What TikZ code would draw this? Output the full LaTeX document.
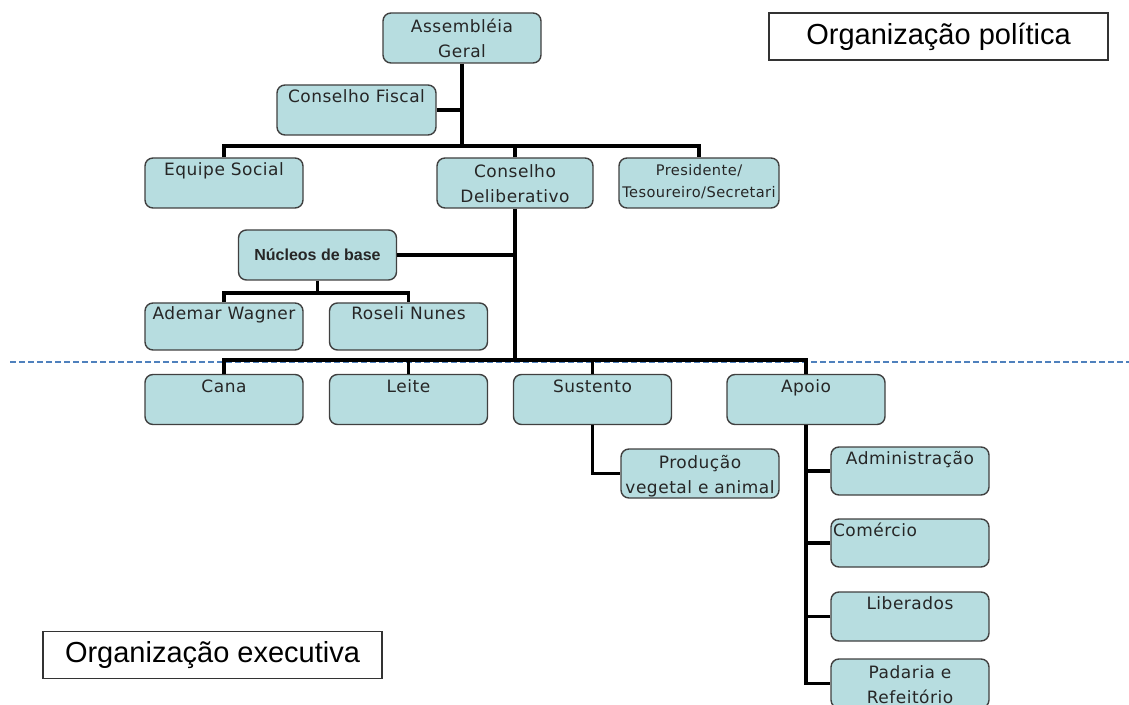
\documentclass[tikz,border=0pt]{standalone}
\usepackage{fontspec}
\setmainfont{Liberation Sans}
\newfontfamily\boxfont[LetterSpace=3]{DejaVu Sans}
\usetikzlibrary{positioning}
\usepackage{xcolor}
\definecolor{boxfill}{RGB}{183,221,224}
\definecolor{boxline}{RGB}{64,64,64}
\definecolor{splitblue}{RGB}{79,129,189}

\begin{document}
\begin{tikzpicture}[
    x=0.5pt, y=-0.5pt,
    box/.style={rectangle, draw=boxline, line width=0.7pt, fill=boxfill, rounded corners=4pt, minimum width=79pt, minimum height=25pt, inner sep=0pt, text=black!85, font=\boxfont\fontsize{8.5}{12.5}\selectfont},
    unit/.style={box, text height=8pt, text depth=15pt},
    unitb/.style={box, align=center, text height=22pt, text depth=2pt},
    tag/.style={rectangle, draw=black!80, line width=0.8pt, minimum width=169.5pt, minimum height=23.5pt, font=\fontsize{14.5}{16}\selectfont},
    link/.style={line width=1.7pt, black},
    split/.style={splitblue, line width=0.6pt, dash pattern=on 3pt off 1.5pt}
]
\useasboundingbox (0,0) rectangle (1129,705);

% Divisao politica / executiva
\draw[split] (10,362) -- (1129,362);

% Organizacao politica
\node[unitb] (asm) at (462,38) {Assembléia\\Geral};
\node[unit, minimum width=79.5pt] (fisc) at (356.5,110) {Conselho Fiscal};
\node[unit] (equipe) at (224,183) {Equipe Social};
\node[unitb, minimum width=78pt] (delib) at (515,183) {Conselho\\Deliberativo};
\node[unitb, minimum width=80pt, font=\boxfont\fontsize{7.3}{11}\selectfont, text height=19pt, text depth=4pt] (pres) at (699,183) {Presidente/\\Tesoureiro/Secretari};

\node[box, font=\bfseries\fontsize{8}{10}\selectfont] (nucleos) at (317.5,255) {Núcleos de base};
\node[unit, minimum height=23.5pt] (ademar) at (224,326.5) {Ademar Wagner};
\node[unit, minimum height=23.5pt] (roseli) at (408.5,326.5) {Roseli Nunes};

% Organizacao executiva
\node[unit] (cana) at (224,399.5) {Cana};
\node[unit] (leite) at (408.5,399.5) {Leite};
\node[unit] (sust) at (592.5,399.5) {Sustento};
\node[unit] (apoio) at (806,399.5) {Apoio};

\node[unitb, minimum height=24.5pt] (prod) at (700,473.5) {Produção\\vegetal e animal};

\node[unit, minimum height=24pt] (adm) at (910,471) {Administração};
\node[unit, minimum height=24pt, text width=77pt, inner xsep=1pt, align=left] (com) at (910,543) {Comércio};
\node[unit, minimum height=24.5pt] (lib) at (910,616.5) {Liberados};
\node[unitb, minimum height=24.5pt] (pad) at (910,683.5) {Padaria e\\Refeitório};

% Rotulos
\node[tag] (pol) at (938.5,36.5) {Organização política};
\node[tag] (exe) at (212.5,655) {Organização executiva};

% Ligacoes
\coordinate (jasm) at (462,146);
\coordinate (jdel) at (515,360);
\coordinate (jnuc) at (317.5,293);

\draw[link] (asm.south) -- (jasm);
\draw[link] (fisc.east) -- (fisc.east -| jasm);
\draw[link] (equipe.north) |- (jasm) -| (pres.north);
\draw[link] (delib.north) -- (delib.north |- jasm);
\draw[link] (delib.south) -- (jdel);
\draw[link] (nucleos.east) -- (nucleos.east -| delib.south);
\draw[link] (nucleos.south) -- (jnuc);
\draw[link] (ademar.north) |- (jnuc) -| (roseli.north);
\draw[link] (cana.north) |- (jdel) -| (apoio.north);
\draw[link] (leite.north) -- (leite.north |- jdel);
\draw[link] (sust.north) -- (sust.north |- jdel);
\draw[link] (sust.south) |- (prod.west);
\draw[link] (apoio.south) |- (pad.west);
\foreach \n in {adm,com,lib}
    \draw[link] (\n.west) -- (\n.west -| apoio.south);

\end{tikzpicture}
\end{document}
